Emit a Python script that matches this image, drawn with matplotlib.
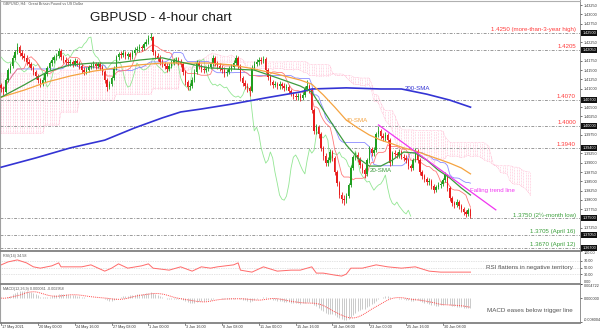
import numpy as np
import pandas as pd
import matplotlib
matplotlib.use("Agg")
import matplotlib.pyplot as plt
import matplotlib.transforms as mtrans
from matplotlib.lines import Line2D

plt.rcParams['font.family'] = ['Liberation Sans', 'DejaVu Sans']

# ---------------- data (4-hour bars, 17 May 2021 -> 2 Jul 2021) ----------------
first_open = 1.4110
closes = [
1.4102, 1.4091, 1.4123, 1.4150, 1.4161, 1.4183, 1.4199, 1.4212, 1.4196, 1.4188,
1.4183, 1.4172, 1.4166, 1.4156, 1.4145, 1.4134, 1.4123, 1.4112, 1.4123, 1.4140,
1.4156, 1.4169, 1.4177, 1.4185, 1.4188, 1.4201, 1.4185, 1.4177, 1.4172, 1.4169,
1.4172, 1.4166, 1.4175, 1.4169, 1.4161, 1.4150, 1.4145, 1.4150, 1.4158, 1.4161,
1.4166, 1.4161, 1.4166, 1.4158, 1.4145, 1.4123, 1.4104, 1.4112, 1.4129, 1.4156,
1.4185, 1.4193, 1.4191, 1.4196, 1.4188, 1.4193, 1.4185, 1.4196, 1.4204, 1.4207,
1.4212, 1.4210, 1.4220, 1.4226, 1.4237, 1.4239, 1.4199, 1.4188, 1.4183, 1.4172,
1.4166, 1.4161, 1.4153, 1.4161, 1.4169, 1.4175, 1.4177, 1.4172, 1.4166, 1.4145,
1.4118, 1.4104, 1.4107, 1.4123, 1.4145, 1.4169, 1.4161, 1.4153, 1.4150, 1.4153,
1.4158, 1.4166, 1.4183, 1.4169, 1.4161, 1.4156, 1.4150, 1.4142, 1.4145, 1.4153,
1.4158, 1.4169, 1.4183, 1.4161, 1.4129, 1.4115, 1.4107, 1.4102, 1.4094, 1.4156,
1.4166, 1.4172, 1.4177, 1.4175, 1.4180, 1.4150, 1.4131, 1.4118, 1.4110, 1.4112,
1.4107, 1.4112, 1.4107, 1.4102, 1.4104, 1.4094, 1.4086, 1.4080, 1.4077, 1.4080,
1.4075, 1.4083, 1.4099, 1.4107, 1.4096, 1.4042, 1.3986, 1.3996, 1.3977, 1.3940,
1.3918, 1.3899, 1.3907, 1.3929, 1.3913, 1.3875, 1.3845, 1.3813, 1.3802, 1.3799,
1.3810, 1.3840, 1.3886, 1.3915, 1.3921, 1.3910, 1.3894, 1.3880, 1.3870, 1.3907,
1.3937, 1.3926, 1.3934, 1.3977, 1.3986, 1.3972, 1.3967, 1.3975, 1.3961, 1.3899,
1.3926, 1.3924, 1.3921, 1.3929, 1.3916, 1.3913, 1.3907, 1.3891, 1.3886, 1.3907,
1.3932, 1.3907, 1.3875, 1.3864, 1.3856, 1.3848, 1.3850, 1.3837, 1.3826, 1.3834,
1.3840, 1.3843, 1.3853, 1.3867, 1.3832, 1.3805, 1.3791, 1.3786, 1.3794, 1.3783,
1.3775, 1.3767, 1.3762, 1.3772, 1.3756]
highs = [
1.4115, 1.4108, 1.4128, 1.4156, 1.4170, 1.4190, 1.4205, 1.4222, 1.4217, 1.4203,
1.4195, 1.4190, 1.4180, 1.4171, 1.4162, 1.4150, 1.4140, 1.4128, 1.4130, 1.4146,
1.4162, 1.4175, 1.4185, 1.4192, 1.4196, 1.4210, 1.4206, 1.4192, 1.4185, 1.4180,
1.4180, 1.4178, 1.4183, 1.4180, 1.4175, 1.4166, 1.4157, 1.4158, 1.4165, 1.4170,
1.4174, 1.4172, 1.4173, 1.4171, 1.4163, 1.4150, 1.4128, 1.4120, 1.4135, 1.4162,
1.4192, 1.4200, 1.4201, 1.4204, 1.4202, 1.4200, 1.4199, 1.4203, 1.4211, 1.4215,
1.4220, 1.4218, 1.4227, 1.4233, 1.4244, 1.4250, 1.4243, 1.4205, 1.4195, 1.4190,
1.4180, 1.4173, 1.4168, 1.4168, 1.4176, 1.4183, 1.4186, 1.4184, 1.4180, 1.4171,
1.4150, 1.4124, 1.4115, 1.4130, 1.4152, 1.4176, 1.4175, 1.4167, 1.4160, 1.4161,
1.4166, 1.4173, 1.4190, 1.4188, 1.4175, 1.4168, 1.4163, 1.4157, 1.4153, 1.4160,
1.4166, 1.4176, 1.4191, 1.4188, 1.4166, 1.4135, 1.4122, 1.4114, 1.4108, 1.4163,
1.4174, 1.4180, 1.4186, 1.4185, 1.4188, 1.4184, 1.4155, 1.4137, 1.4124, 1.4120,
1.4119, 1.4120, 1.4119, 1.4114, 1.4112, 1.4110, 1.4100, 1.4092, 1.4088, 1.4088,
1.4087, 1.4090, 1.4106, 1.4123, 1.4112, 1.4101, 1.4048, 1.4005, 1.4002, 1.3982,
1.3946, 1.3925, 1.3915, 1.3937, 1.3934, 1.3918, 1.3880, 1.3850, 1.3820, 1.3812,
1.3818, 1.3846, 1.3893, 1.3922, 1.3930, 1.3928, 1.3916, 1.3900, 1.3886, 1.3913,
1.3944, 1.3943, 1.3942, 1.3984, 1.3998, 1.3992, 1.3980, 1.3983, 1.3980, 1.3966,
1.3932, 1.3934, 1.3930, 1.3936, 1.3934, 1.3923, 1.3920, 1.3912, 1.3897, 1.3914,
1.3940, 1.3936, 1.3912, 1.3881, 1.3870, 1.3862, 1.3858, 1.3855, 1.3842, 1.3841,
1.3847, 1.3851, 1.3860, 1.3875, 1.3871, 1.3837, 1.3810, 1.3798, 1.3801, 1.3800,
1.3790, 1.3781, 1.3773, 1.3779, 1.3777]
lows = [
1.4090, 1.4084, 1.4088, 1.4118, 1.4143, 1.4155, 1.4176, 1.4193, 1.4188, 1.4180,
1.4175, 1.4165, 1.4158, 1.4150, 1.4138, 1.4127, 1.4115, 1.4105, 1.4106, 1.4118,
1.4134, 1.4150, 1.4162, 1.4170, 1.4178, 1.4182, 1.4178, 1.4170, 1.4165, 1.4160,
1.4162, 1.4158, 1.4160, 1.4162, 1.4154, 1.4143, 1.4136, 1.4140, 1.4145, 1.4152,
1.4155, 1.4153, 1.4155, 1.4150, 1.4138, 1.4115, 1.4094, 1.4098, 1.4106, 1.4124,
1.4150, 1.4178, 1.4183, 1.4184, 1.4180, 1.4181, 1.4177, 1.4180, 1.4190, 1.4198,
1.4200, 1.4202, 1.4204, 1.4214, 1.4220, 1.4230, 1.4192, 1.4180, 1.4175, 1.4164,
1.4158, 1.4152, 1.4145, 1.4147, 1.4155, 1.4163, 1.4168, 1.4165, 1.4158, 1.4138,
1.4110, 1.4096, 1.4097, 1.4102, 1.4118, 1.4140, 1.4154, 1.4146, 1.4142, 1.4144,
1.4147, 1.4152, 1.4160, 1.4162, 1.4154, 1.4148, 1.4142, 1.4132, 1.4135, 1.4140,
1.4147, 1.4152, 1.4163, 1.4154, 1.4120, 1.4106, 1.4098, 1.4092, 1.4080, 1.4090,
1.4150, 1.4160, 1.4165, 1.4167, 1.4168, 1.4143, 1.4123, 1.4110, 1.4102, 1.4103,
1.4099, 1.4100, 1.4099, 1.4094, 1.4095, 1.4087, 1.4079, 1.4072, 1.4069, 1.4070,
1.4066, 1.4070, 1.4078, 1.4093, 1.4088, 1.4035, 1.3978, 1.3978, 1.3968, 1.3932,
1.3908, 1.3890, 1.3892, 1.3902, 1.3905, 1.3866, 1.3836, 1.3805, 1.3792, 1.3786,
1.3792, 1.3805, 1.3835, 1.3880, 1.3908, 1.3902, 1.3886, 1.3872, 1.3858, 1.3864,
1.3900, 1.3918, 1.3919, 1.3928, 1.3970, 1.3965, 1.3958, 1.3960, 1.3954, 1.3890,
1.3893, 1.3916, 1.3913, 1.3914, 1.3909, 1.3905, 1.3899, 1.3883, 1.3878, 1.3880,
1.3901, 1.3900, 1.3868, 1.3856, 1.3848, 1.3840, 1.3841, 1.3830, 1.3818, 1.3820,
1.3828, 1.3833, 1.3837, 1.3848, 1.3825, 1.3797, 1.3783, 1.3778, 1.3780, 1.3776,
1.3768, 1.3760, 1.3754, 1.3756, 1.3750]

# moving averages (bar index -> value)
sma_bars = [0, 10, 20, 30, 40, 50, 60, 70, 80, 90, 100, 110, 120, 130, 135, 140,
            145, 150, 155, 160, 165, 170, 175, 180, 185, 190, 195, 200, 204]
sma20 = [1.4077, 1.4110, 1.4145, 1.4164, 1.4169, 1.4169, 1.4177, 1.4183, 1.4169,
         1.4156, 1.4153, 1.4150, 1.4129, 1.4107, 1.4091, 1.4042, 1.3994, 1.3948,
         1.3913, 1.3891, 1.3891, 1.3907, 1.3929, 1.3926, 1.3907, 1.3880, 1.3859,
         1.3832, 1.3813]
sma40 = [1.4077, 1.4096, 1.4118, 1.4134, 1.4147, 1.4156, 1.4164, 1.4169, 1.4169,
         1.4169, 1.4164, 1.4153, 1.4139, 1.4123, 1.4112, 1.4083, 1.4050, 1.4015,
         1.3994, 1.3975, 1.3961, 1.3951, 1.3940, 1.3932, 1.3921, 1.3910, 1.3899,
         1.3886, 1.3870]
sma200_bars = [0, 15, 30, 45, 58, 70, 78, 87, 100, 115, 130, 135, 150, 165, 174,
               185, 195, 204]
sma200 = [1.3888, 1.3913, 1.3940, 1.3961, 1.3994, 1.4021, 1.4037, 1.4045, 1.4058,
          1.4075, 1.4091, 1.4099, 1.4102, 1.4099, 1.4099, 1.4085, 1.4069, 1.4050]

# Ichimoku cloud before the computable window (bar where each value starts)
early_cloud_bars = [0, 19, 26, 34, 50, 66]
early_cloud_hi = [1.4140, 1.4140, 1.4150, 1.4155, 1.4160, 1.4165]
early_cloud_lo = [1.3980, 1.4002, 1.4037, 1.4069, 1.4085, 1.4100]

# RSI(14)
rsi_bars = [0, 3, 7, 11, 14, 17, 22, 25, 26, 30, 35, 39, 45, 48, 51, 55, 61, 64,
            66, 73, 78, 83, 87, 91, 94, 101, 103, 104, 109, 114, 120, 126, 130,
            135, 137, 140, 145, 148, 150, 152, 157, 163, 168, 174, 180, 186, 191,
            199, 204]
rsi_vals = [58, 67, 73, 64, 52, 48, 55, 64, 52, 52, 52, 58, 39, 48, 61, 48, 55, 61,
            48, 42, 52, 39, 52, 48, 52, 58, 64, 42, 36, 52, 39, 42, 42, 52, 33, 33,
            27, 24, 30, 48, 48, 58, 52, 48, 52, 39, 36, 36, 36]

red_levels = [1.4250, 1.4205, 1.4070, 1.4000, 1.3940]
red_texts = ["1.4250 (more-than-3-year high)", "1.4205", "1.4070", "1.4000", "1.3940"]
green_levels = [1.3750, 1.3705, 1.3670]
green_texts = ["1.3750 (2½-month low)", "1.3705 (April 16)", "1.3670 (April 12)"]

trend_bars = [164, 215]
trend_prices = [1.4002, 1.3773]

date_bars = [0, 16, 32, 48, 64, 80, 96, 112, 128, 144, 160, 176, 192]
date_labels = ["17 May 2021", "20 May 00:00", "24 May 16:00", "27 May 08:00",
               "1 Jun 00:00", "3 Jun 16:00", "8 Jun 08:00", "11 Jun 00:00",
               "15 Jun 16:00", "18 Jun 08:00", "23 Jun 00:00", "25 Jun 16:00",
               "30 Jun 08:00"]

rsi_ticks = [0, 30, 50, 70, 100]
rsi_tick_labels = ["0.00", "30.00", "50.00", "70.00", "100.00"]
macd_ticks = [-0.008004, 0.0, 0.004722]
macd_tick_labels = ["-0.008004", "0.000000", "0.004722"]

# ---------------- derived series ----------------
c = pd.Series(closes)
h = pd.Series(highs)
l = pd.Series(lows)
o = pd.Series([first_open] + closes[:-1])
n = len(c)
xb = np.arange(n)

tenkan = (h.rolling(9, min_periods=1).max() + l.rolling(9, min_periods=1).min()) / 2
kijun = (h.rolling(26, min_periods=1).max() + l.rolling(26, min_periods=1).min()) / 2
spanA_src = (tenkan + kijun) / 2
spanB_src = (h.rolling(52).max() + l.rolling(52).min()) / 2

cx_late = np.arange(78, n + 26)
A_late = spanA_src.values[cx_late - 26]
B_late = spanB_src.values[cx_late - 26]
cx_early = np.arange(0, 78)
seg = np.searchsorted(early_cloud_bars, cx_early, side='right') - 1
A_early = np.array(early_cloud_hi)[seg]
B_early = np.array(early_cloud_lo)[seg]
cloud_x = np.concatenate([cx_early, cx_late])
cloud_a = np.concatenate([A_early, A_late])
cloud_b = np.concatenate([B_early, B_late])

ema12 = c.ewm(span=12, adjust=False).mean()
ema26 = c.ewm(span=26, adjust=False).mean()
macd = ema12 - ema26
signal = macd.rolling(9, min_periods=1).mean()

# ---------------- figure ----------------
W, H = 600, 330
fig = plt.figure(figsize=(6, 3.3), dpi=100)
fig.patch.set_facecolor('white')

XL = (-0.52, 251.6)
ax = fig.add_axes([0, 1 - 251 / H, 580 / W, 251 / H])
ax_rsi = fig.add_axes([0, 1 - 284 / H, 580 / W, 33 / H])
ax_macd = fig.add_axes([0, 1 - 322 / H, 580 / W, 38 / H])

GRID = '#9a9a9a'
for a in (ax, ax_rsi, ax_macd):
    a.set_xlim(*XL)
    a.set_xticks([])
    a.yaxis.tick_right()
    a.tick_params(axis='y', labelsize=2.7, colors='#333333', length=1.5, pad=1, width=0.5)
    for s in ('top', 'bottom'):
        a.spines[s].set_visible(False)
    a.spines['left'].set_color('#a0a0a0')
    a.spines['left'].set_linewidth(0.8)
    a.spines['right'].set_color('#808080')
    a.spines['right'].set_linewidth(0.6)
    a.set_facecolor('white')

# main panel
ax.set_ylim(1.3662, 1.4339)
levels_all = red_levels + green_levels
pt = [t for t in np.arange(1.3675, 1.4340, 0.0025)
      if min(abs(t - lv) for lv in levels_all) > 0.0013]
ax.set_yticks(pt)
ax.set_yticklabels([f"{t:.5f}" for t in pt])

ax.vlines(cloud_x, np.minimum(cloud_a, cloud_b), np.maximum(cloud_a, cloud_b),
          colors='#ffb3cd', linestyles=(0, (1, 1.2)), lw=0.5, zorder=1)
ax.plot(cloud_x, cloud_a, color='#ffb3cd', lw=0.5, ls=(0, (1, 1)), zorder=1)
ax.plot(cloud_x, cloud_b, color='#ffb3cd', lw=0.5, ls=(0, (1, 1)), zorder=1)

for p in levels_all:
    ax.axhline(p, color=GRID, lw=0.7, ls=(0, (3, 1.5, 1, 1.5)), zorder=1.5)

ax.plot(xb[26:] - 26, c.values[26:], color='#93e693', lw=0.6, zorder=2)
ax.plot(xb, kijun, color='#8a8aff', lw=0.6, zorder=2)
ax.plot(xb, tenkan, color='#ff7a7a', lw=0.6, zorder=2)

UP, DN = '#1f9e1f', '#e81c1c'
up = (c >= o).values
cols = np.where(up, UP, DN)
ax.vlines(xb, l, h, colors=cols, lw=0.6, zorder=3)
body_lo = np.minimum(o, c)
body_h = np.maximum(np.abs(c - o), 0.00007)
ax.bar(xb, body_h, bottom=body_lo, width=0.62, color=cols, lw=0, zorder=3)

ax.plot(sma200_bars, sma200, color='#3434d4', lw=1.2, zorder=4)
ax.plot(sma_bars, sma40, color='#f5a340', lw=0.9, zorder=4)
ax.plot(sma_bars, sma20, color='#3d9b3d', lw=0.9, zorder=4)
ax.plot(trend_bars, trend_prices, color='#f035f0', lw=0.9, zorder=4)

bt = mtrans.blended_transform_factory(ax.transAxes, ax.transData)
for p, t in zip(red_levels, red_texts):
    ax.text(0.993, p + 0.0002, t, transform=bt, ha='right', va='bottom',
            fontsize=4.4, color='#ff3b3b', zorder=6)
for p, t in zip(green_levels, green_texts):
    ax.text(0.993, p + 0.0002, t, transform=bt, ha='right', va='bottom',
            fontsize=4.4, color='#3a9e3a', zorder=6)
for p in levels_all:
    ax.text(1.004, p, f"{p:.5f}", transform=bt, ha='left', va='center',
            fontsize=2.7, color='white', zorder=7, clip_on=False,
            bbox=dict(boxstyle='square,pad=0.25', fc='#111111', ec='none'))

ax.text(175.5, 1.4100, "200-SMA", color='#3434d4', fontsize=4.4, va='center', ha='left', zorder=6)
ax.text(150, 1.4015, "40-SMA", color='#f5a340', fontsize=4.4, va='center', ha='left', zorder=6)
ax.text(160, 1.3880, "20-SMA", color='#3d9b3d', fontsize=4.4, va='center', ha='left', zorder=6)
ax.text(204, 1.3826, "Falling trend line", color='#f035f0', fontsize=4.4, va='center',
        ha='left', zorder=6)

fig.text(90 / W, 1 - 18 / H, "GBPUSD - 4-hour chart", fontsize=9.7, color='#1a1a1a',
         va='center', ha='left')
fig.text(3 / W, 1 - 4 / H, "GBPUSD, H4:  Great Britain Pound vs US Dollar", fontsize=2.7,
         color='#555555', va='center', ha='left')

# RSI panel
ax_rsi.set_ylim(0, 100)
ax_rsi.set_yticks(rsi_ticks)
ax_rsi.set_yticklabels(rsi_tick_labels)
for lv in (30, 50, 70):
    ax_rsi.axhline(lv, color='#c8c8c8', lw=0.5, ls=(0, (1, 1.5)))
ax_rsi.plot(rsi_bars, rsi_vals, color='#ff6a6a', lw=0.7)
ax_rsi.text(0.005, 0.86, "RSI(14) 34.58", transform=ax_rsi.transAxes, fontsize=2.7,
            color='#555555', va='center')
ax_rsi.text(0.988, 0.5, "RSI flattens in negative territory", transform=ax_rsi.transAxes,
            fontsize=4.5, color='#555555', ha='right', va='center')

# MACD panel
ax_macd.set_ylim(macd_ticks[0], macd_ticks[-1])
ax_macd.set_yticks(macd_ticks)
ax_macd.set_yticklabels(macd_tick_labels)
ax_macd.vlines(xb, 0, macd, colors='#b5b5b5', lw=0.5)
ax_macd.plot(xb, signal, color='#ff4a4a', lw=0.7, ls=(0, (1, 1)))
ax_macd.text(0.005, 0.88, "MACD(12,26,9) 0.000061 -0.002958", transform=ax_macd.transAxes,
             fontsize=2.7, color='#555555', va='center')
ax_macd.text(0.988, 0.3, "MACD eases below trigger line", transform=ax_macd.transAxes,
             fontsize=4.5, color='#555555', ha='right', va='center')

# keep the end labels of the small panels inside their panels
for a in (ax_rsi, ax_macd):
    labs = a.get_yticklabels()
    labs[0].set_verticalalignment('bottom')
    labs[-1].set_verticalalignment('top')

# date axis
bx = mtrans.blended_transform_factory(ax_macd.transData, ax_macd.transAxes)
for b, t in zip(date_bars, date_labels):
    ax_macd.plot([b, b], [0, -0.07], transform=bx, color='#555555', lw=0.5, clip_on=False)
    ax_macd.text(b + 0.4, -0.12, t, transform=bx, fontsize=2.7, color='#333333',
                 ha='left', va='center', clip_on=False)

# panel separators
for yy in (251, 284, 322.5):
    fig.add_artist(Line2D([0, 580 / W], [1 - yy / H, 1 - yy / H], color='#808080', lw=1.3))
fig.add_artist(Line2D([0, 580 / W], [1 - 0.5 / H, 1 - 0.5 / H], color='#b0b0b0', lw=0.8))

fig.savefig("out.png", dpi=100, facecolor='white')
